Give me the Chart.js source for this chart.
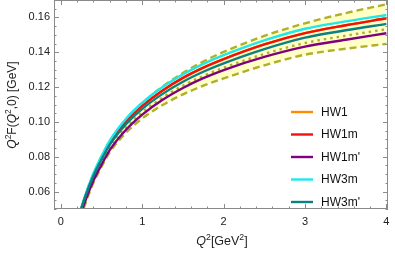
<!DOCTYPE html>
<html>
<head>
<meta charset="utf-8">
<script src="https://cdn.jsdelivr.net/npm/chart.js@4"></script>
<style>
  html, body { margin: 0; padding: 0; background: #fff; }
  #wrap { width: 395px; height: 258px; }
</style>
</head>
<body>
<div id="wrap"><canvas id="formFactor" width="395" height="258"></canvas></div>
<script>
// Q^2 in GeV^2
const q2 = [0.2, 0.25, 0.3, 0.4, 0.5, 0.6, 0.8, 1, 1.25, 1.5, 1.75, 2, 2.5, 3, 3.5, 4];

// Q^2 F(Q^2,0) in GeV
const hw1    = [0.0418, 0.0499, 0.0571, 0.0694, 0.0793, 0.0880, 0.1002, 0.1092, 0.1181, 0.1253, 0.1312, 0.1361, 0.1445, 0.1510, 0.1555, 0.1595];
const hw1m   = [0.0418, 0.0499, 0.0571, 0.0694, 0.0793, 0.0880, 0.1002, 0.1092, 0.1181, 0.1253, 0.1312, 0.1361, 0.1445, 0.1510, 0.1555, 0.1595];
const hw1mp  = [0.0398, 0.0477, 0.0547, 0.0663, 0.0755, 0.0838, 0.0955, 0.1042, 0.1127, 0.1195, 0.1251, 0.1298, 0.1373, 0.1432, 0.1472, 0.1509];
const hw3m   = [0.0425, 0.0507, 0.0580, 0.0705, 0.0805, 0.0893, 0.1018, 0.1110, 0.1200, 0.1273, 0.1333, 0.1383, 0.1468, 0.1535, 0.1577, 0.1614];
const hw3mp  = [0.0421, 0.0502, 0.0573, 0.0691, 0.0785, 0.0869, 0.0987, 0.1075, 0.1161, 0.1231, 0.1288, 0.1336, 0.1418, 0.1484, 0.1526, 0.1563];
// yellow band (dashed edges) and dotted line
const bandUp = [0.0422, 0.0504, 0.0577, 0.0701, 0.0801, 0.0889, 0.1014, 0.1108, 0.1203, 0.1281, 0.1347, 0.1402, 0.1494, 0.1566, 0.1625, 0.1675];
const bandLo = [0.0383, 0.0461, 0.0530, 0.0650, 0.0743, 0.0825, 0.0938, 0.1020, 0.1097, 0.1158, 0.1208, 0.1250, 0.1325, 0.1386, 0.1420, 0.1448];
const dotted = [0.0397, 0.0477, 0.0548, 0.0668, 0.0765, 0.0849, 0.0968, 0.1055, 0.1140, 0.1208, 0.1264, 0.1311, 0.1390, 0.1453, 0.1495, 0.1532];

const labels = ['HW1', 'HW1m', "HW1m'", 'HW3m', "HW3m'"];
const colors = ['#ff8c00', '#f01010', '#800080', '#1ee8ec', '#0a8080'];
const curves = [hw1, hw1m, hw1mp, hw3m, hw3mp];

const pts = arr => arr.map((v, i) => ({ x: q2[i], y: v }));
const olive = '#b0b028';

const datasets = [];
curves.forEach((c, i) => {
  datasets.push({
    label: labels[i], data: pts(c), borderColor: colors[i], borderWidth: 2.4,
    pointRadius: 0, cubicInterpolationMode: 'monotone', fill: false, clip: 0,
    order: [5, 4, 3, 2, 1][i]
  });
});
datasets.push({ label: 'up', data: pts(bandUp), borderColor: olive, borderWidth: 2.4, borderDash: [7, 4],
  pointRadius: 0, cubicInterpolationMode: 'monotone', fill: false, clip: 0, order: 8 });
datasets.push({ label: 'lo', data: pts(bandLo), borderColor: olive, borderWidth: 2.4, borderDash: [7, 4],
  pointRadius: 0, cubicInterpolationMode: 'monotone', fill: { target: 5 }, backgroundColor: '#ffffc6', clip: 0, order: 9 });
datasets.push({ label: 'dot', data: pts(dotted), borderColor: olive, borderWidth: 2.4, borderDash: [2.5, 4],
  pointRadius: 0, cubicInterpolationMode: 'monotone', fill: false, clip: 0, order: 7 });

const FONT = '"Liberation Sans", Arial, sans-serif';

// frame with inward ticks, Mathematica style
const framePlugin = {
  id: 'frame',
  afterDatasetsDraw(chart) {
    const { ctx, chartArea: a, scales: { x, y } } = chart;
    ctx.save();
    ctx.strokeStyle = '#8a8a8a';
    ctx.lineWidth = 1;
    ctx.strokeRect(a.left + 0.5, a.top + 0.5, a.right - a.left - 1, a.bottom - a.top - 1);
    ctx.beginPath();
    x.ticks.forEach(t => {
      if (t.value < 0) return;
      const px = Math.round(x.getPixelForValue(t.value)) + 0.5;
      const major = Math.abs(t.value - Math.round(t.value)) < 1e-6;
      const len = major ? 5 : 2.5;
      ctx.moveTo(px, a.bottom); ctx.lineTo(px, a.bottom - len);
      ctx.moveTo(px, a.top); ctx.lineTo(px, a.top + len);
    });
    y.ticks.forEach(t => {
      const py = Math.round(y.getPixelForValue(t.value)) + 0.5;
      const k = Math.round(t.value * 1000);
      const len = (k % 20 === 0) ? 5 : 2.5;
      ctx.moveTo(a.left, py); ctx.lineTo(a.left + len, py);
      ctx.moveTo(a.right, py); ctx.lineTo(a.right - len, py);
    });
    ctx.stroke();
    ctx.restore();
  }
};

// draws rich text pieces [text, italic, sup] centred at 0,0
function richText(ctx, parts, size) {
  const widths = parts.map(p => {
    ctx.font = (p[1] ? 'italic ' : '') + (p[2] ? size * 0.7 : size) + 'px ' + FONT;
    return ctx.measureText(p[0]).width;
  });
  let xx = -widths.reduce((s, w) => s + w, 0) / 2;
  parts.forEach((p, i) => {
    ctx.font = (p[1] ? 'italic ' : '') + (p[2] ? size * 0.7 : size) + 'px ' + FONT;
    ctx.fillText(p[0], xx, p[2] ? -size * 0.38 : 0);
    xx += widths[i];
  });
}

const titlesPlugin = {
  id: 'titles',
  afterDraw(chart) {
    const { ctx } = chart;
    ctx.save();
    ctx.fillStyle = '#222';
    ctx.textBaseline = 'middle';
    ctx.textAlign = 'left';
    ctx.save();
    ctx.translate(222, 242);
    richText(ctx, [['Q', true, false], ['2', false, true], ['[GeV', false, false], ['2', false, true], [']', false, false]], 12.5);
    ctx.restore();
    ctx.save();
    ctx.translate(13, 105);
    ctx.rotate(-Math.PI / 2);
    richText(ctx, [['Q', true, false], ['2', false, true], ['F(', false, false], ['Q', true, false], ['2', false, true], [',0) [GeV]', false, false]], 12);
    ctx.restore();
    ctx.restore();
  }
};

const legendPlugin = {
  id: 'innerLegend',
  afterDraw(chart) {
    const { ctx } = chart;
    ctx.save();
    ctx.font = '12px ' + FONT;
    ctx.textBaseline = 'middle';
    labels.forEach((lab, i) => {
      const yy = 112 + i * 22.5;
      ctx.strokeStyle = colors[i];
      ctx.lineWidth = 2.4;
      ctx.beginPath();
      ctx.moveTo(291, yy); ctx.lineTo(313, yy);
      ctx.stroke();
      ctx.fillStyle = '#111';
      ctx.fillText(lab, 321, yy + 0.5);
    });
    ctx.restore();
  }
};

new Chart(document.getElementById('formFactor').getContext('2d'), {
  type: 'line',
  data: { datasets },
  options: {
    responsive: false,
    animation: false,
    layout: { padding: { left: 0, right: 7, top: 0, bottom: 0 } },
    plugins: { legend: { display: false }, tooltip: { enabled: false } },
    scales: {
      x: {
        type: 'linear', min: -0.085, max: 4.02,
        grid: { display: false, drawTicks: false }, border: { display: false },
        ticks: {
          stepSize: 0.2, autoSkip: false, maxRotation: 0, padding: 6, includeBounds: false,
          color: '#222', font: { family: FONT, size: 11 },
          callback: v => (v >= 0 && Math.abs(v - Math.round(v)) < 1e-6) ? String(Math.round(v)) : ''
        },
        afterFit: s => { s.height = 49; s.paddingLeft = 0; s.paddingRight = 0; }
      },
      y: {
        type: 'linear', min: 0.05, max: 0.17,
        grid: { display: false, drawTicks: false }, border: { display: false },
        ticks: {
          stepSize: 0.005, autoSkip: false, padding: 4, includeBounds: false,
          color: '#222', font: { family: FONT, size: 11 },
          callback: v => {
            const k = Math.round(v * 1000);
            return (k % 20 === 0 && k >= 60 && k <= 160) ? (k / 1000).toFixed(2) : '';
          }
        },
        afterFit: s => { s.width = 54; s.paddingTop = 0; s.paddingBottom = 0; }
      }
    }
  },
  plugins: [framePlugin, titlesPlugin, legendPlugin]
});
</script>
</body>
</html>
